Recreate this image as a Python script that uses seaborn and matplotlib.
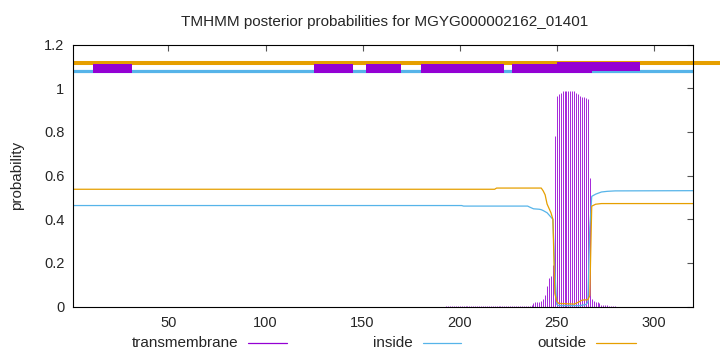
import matplotlib
matplotlib.use("Agg")
import matplotlib.pyplot as plt
from matplotlib.lines import Line2D
from matplotlib.patches import Rectangle
import seaborn as sns
import pandas as pd

# ---------------- data ----------------
seq_len = 320
title = "TMHMM posterior probabilities for MGYG000002162_01401"

# inside probability (breakpoints of the curve: residue, value)
inside_pos = [1, 201, 202, 235, 236, 237, 238, 241, 242, 243, 244, 245, 246, 247, 248,
              249, 250, 251, 262, 265, 266, 267, 268, 270, 273, 276, 280, 320]
inside_val = [0.463, 0.463, 0.4605, 0.4605, 0.456, 0.452, 0.448, 0.446, 0.444, 0.440,
              0.435, 0.430, 0.420, 0.410, 0.400, 0.160, 0.010, 0.005, 0.005, 0.010,
              0.020, 0.360, 0.505, 0.515, 0.525, 0.528, 0.530, 0.531]

# outside probability (breakpoints)
outside_pos = [1, 218, 219, 242, 243, 244, 245, 246, 247, 248, 249, 250, 251, 259, 261,
               263, 266, 267, 268, 270, 273, 320]
outside_val = [0.5375, 0.5375, 0.543, 0.543, 0.530, 0.512, 0.470, 0.450, 0.430, 0.400,
               0.060, 0.025, 0.015, 0.012, 0.020, 0.030, 0.032, 0.050, 0.460, 0.469,
               0.472, 0.472]

# transmembrane probability per residue (impulses)
tm_pos = list(range(193, 281))
tm_val = ([0.003] * 44 +                                    # 193-236
          [0.008, 0.018, 0.020, 0.020, 0.020, 0.025, 0.035, 0.055, 0.095, 0.130,
           0.140, 0.190, 0.780, 0.965, 0.975, 0.980, 0.985, 0.985, 0.985, 0.985,
           0.985, 0.985, 0.985, 0.980, 0.975, 0.965, 0.960, 0.960, 0.955, 0.950,
           0.590, 0.035, 0.025, 0.023, 0.020, 0.015, 0.008, 0.008, 0.008, 0.008,
           0.005, 0.003, 0.003, 0.003])                     # 237-280

# predicted topology boxes at the top (start, end, low, high)
tm_box_start = [11, 125, 152, 180, 227, 250, 268]
tm_box_end = [31, 145, 170, 223, 250, 268, 293]
tm_box_low = [1.071, 1.071, 1.071, 1.071, 1.071, 1.071, 1.081]
tm_box_high = [1.109, 1.109, 1.109, 1.109, 1.109, 1.120, 1.120]

outside_level = 1.115
inside_level = 1.077

xticks = [50, 100, 150, 200, 250, 300]
yticks = [0, 0.2, 0.4, 0.6, 0.8, 1.0, 1.2]
yticklabels = ["0", "0.2", "0.4", "0.6", "0.8", "1", "1.2"]

# ---------------- style ----------------
sns.set_style("white")
plt.rcParams["font.family"] = ["Liberation Sans", "DejaVu Sans"]

C_TM = "#9400D3"
C_IN = "#56B4E9"
C_OUT = "#E69F00"

W, H = 720, 352
fig = plt.figure(figsize=(W / 100, H / 100), dpi=100)
L, R, T, B = 73.3, 692.7, 44.5, 306.7
ax = fig.add_axes([L / W, (H - B) / H, (R - L) / W, (B - T) / H])

df_in = pd.DataFrame({"residue": inside_pos, "p": inside_val})
df_out = pd.DataFrame({"residue": outside_pos, "p": outside_val})

ax.vlines(tm_pos, 0, tm_val, color=C_TM, lw=0.7, alpha=0.85)
sns.lineplot(data=df_in, x="residue", y="p", ax=ax, color=C_IN, lw=0.9)
sns.lineplot(data=df_out, x="residue", y="p", ax=ax, color=C_OUT, lw=0.9)

# top topology lines
ax.plot([1, seq_len], [inside_level, inside_level], color=C_IN, lw=2.3,
        solid_capstyle="butt")
ax.plot([1, 335], [outside_level, outside_level], color=C_OUT, lw=2.9,
        solid_capstyle="butt", clip_on=False)
for s, e, lo, hi in zip(tm_box_start, tm_box_end, tm_box_low, tm_box_high):
    ax.add_patch(Rectangle((s, lo), e - s, hi - lo, facecolor=C_TM,
                           edgecolor="none", zorder=3))

ax.set_xlim(1, seq_len)
ax.set_ylim(0, 1.2)
ax.set_xticks(xticks)
ax.set_yticks(yticks)
ax.set_yticklabels(yticklabels)
ax.set_xlabel("")
ax.set_ylabel("probability", fontsize=11, labelpad=14)
ax.tick_params(direction="in", length=4, width=0.8, color="#555555",
               top=True, right=True, labelsize=10.5, pad=6.5)
ax.tick_params(axis="x", pad=7)
for sp in ax.spines.values():
    sp.set_color("black")
    sp.set_linewidth(0.8)
    sp.set_visible(True)

fig.text(384.7 / W, 1 - 22 / H, title, ha="center", va="center", fontsize=11)

# key at the bottom
leg_y = 1 - 343 / H
keys = [("transmembrane", 238.6, 248, 287, C_TM),
        ("inside", 413, 422.5, 460.7, C_IN),
        ("outside", 586, 596.4, 635.7, C_OUT)]
for label, tx, x0, x1, c in keys:
    fig.text(tx / W, leg_y, label, ha="right", va="center", fontsize=11)
    fig.add_artist(Line2D([x0 / W, x1 / W], [leg_y, leg_y], color=c, lw=0.9))

fig.savefig("out.png", dpi=100)
